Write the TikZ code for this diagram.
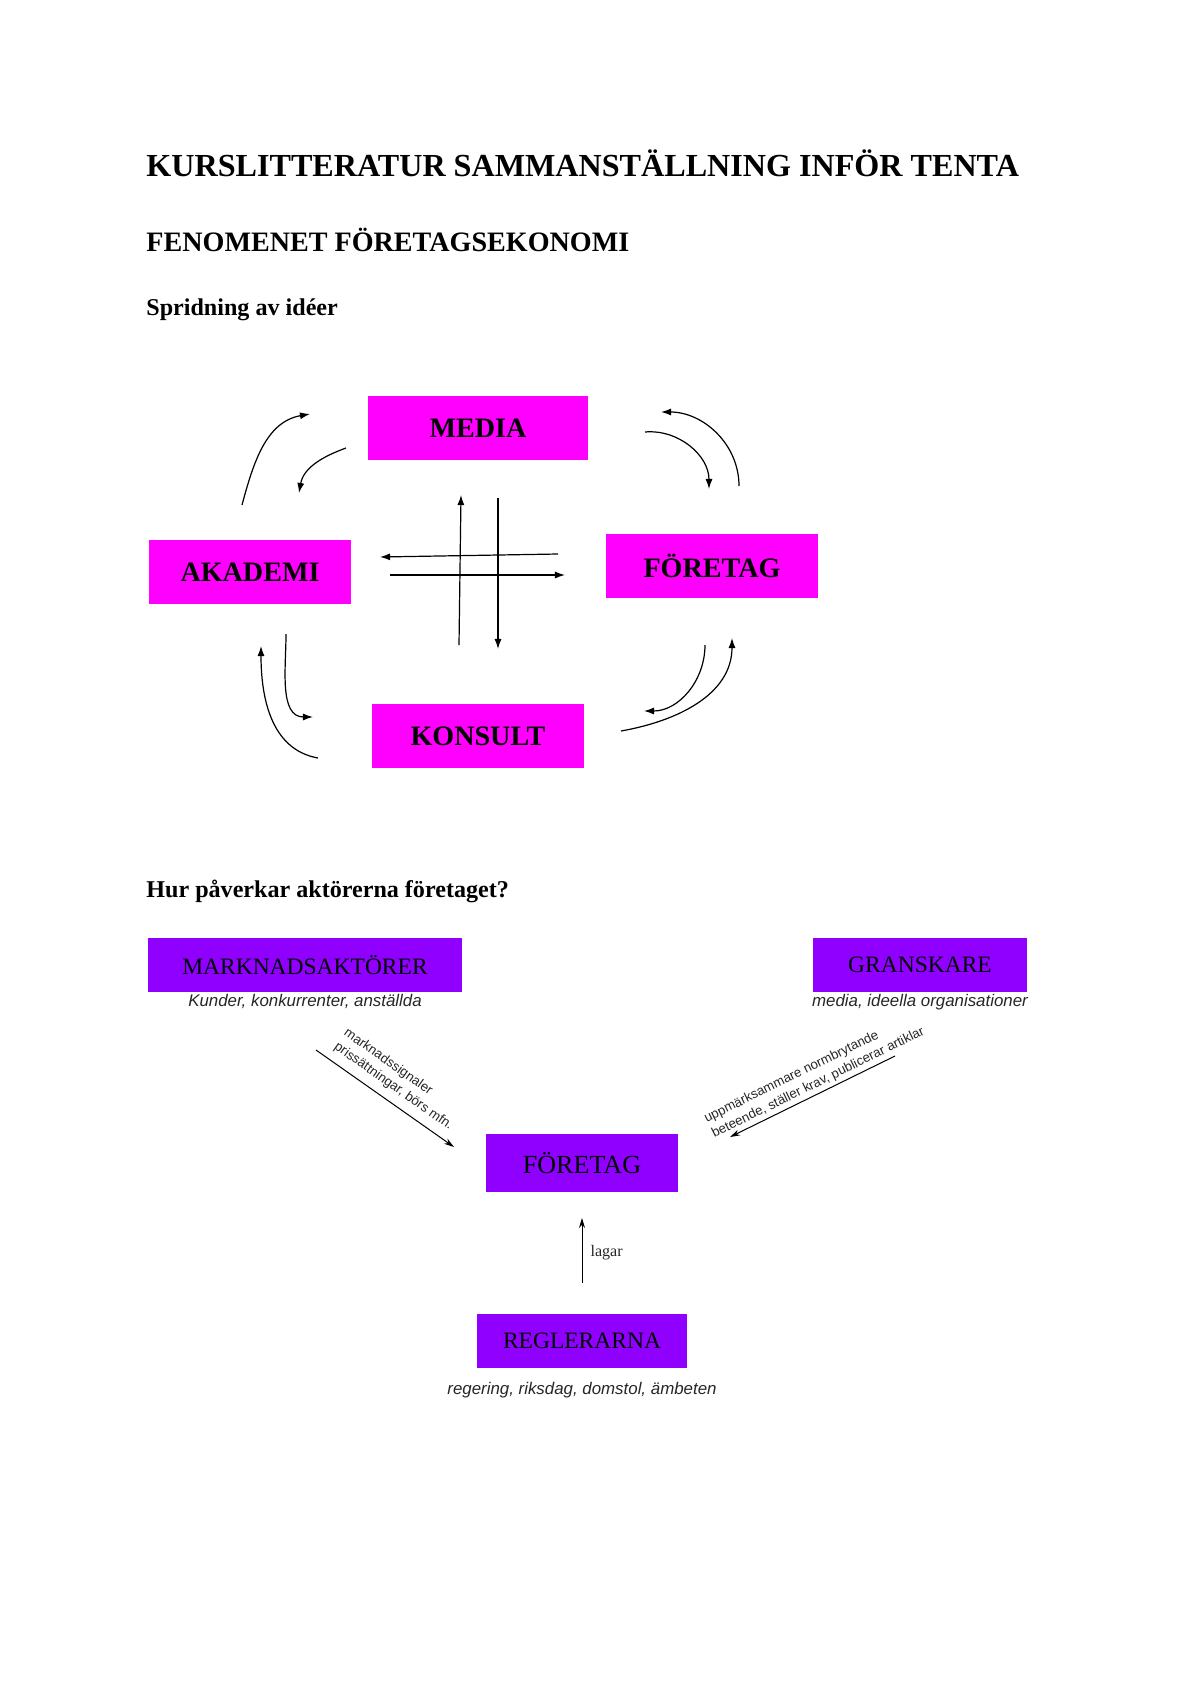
\documentclass[tikz,border=0pt]{standalone}
\usepackage{fontspec}
\setmainfont{Liberation Serif}
\setsansfont{Liberation Sans}
\usepackage{tikz}
\usetikzlibrary{positioning}
\usetikzlibrary{arrows.meta}
\definecolor{mymagenta}{RGB}{255,0,255}
\definecolor{myviolet}{RGB}{143,0,255}

\begin{document}
\begin{tikzpicture}[x=0.0175cm,y=0.0175cm]
	\useasboundingbox (0,0) rectangle (1200,-1694);

	\begin{scope}[every node/.style={anchor=base west,inner sep=0pt}]
	    \node (title) at (146,-176) [font=\fontsize{16}{19}\selectfont\bfseries] {KURSLITTERATUR SAMMANSTÄLLNING INFÖR TENTA};
	    \node (fenomen) at (146,-251) [font=\fontsize{14}{17}\selectfont\bfseries] {FENOMENET FÖRETAGSEKONOMI};
	    \node (spridning) at (146,-315) [font=\fontsize{12}{14}\selectfont\bfseries] {Spridning av idéer};
	    \node (hur) at (146,-897) [font=\fontsize{12}{14}\selectfont\bfseries] {Hur påverkar aktörerna företaget?};
	\end{scope}

	\begin{scope}[every node/.style={fill=mymagenta,minimum height=1.11cm,font=\fontsize{14}{16}\selectfont\bfseries}]
	    \node (media) at (478,-428) [minimum width=3.85cm] {MEDIA};
	    \node (akademi) at (250,-572) [minimum width=3.55cm] {AKADEMI};
	    \node (foretag) at (712,-566) [minimum width=3.71cm] {FÖRETAG};
	    \node (konsult) at (478,-736) [minimum width=3.71cm] {KONSULT};
	\end{scope}

	\coordinate (am1) at (242,-505);
	\coordinate (am2) at (310,-414);
	\coordinate (ma1) at (346,-448);
	\coordinate (ma2) at (299,-493);
	\coordinate (mf1) at (645,-432);
	\coordinate (mf2) at (709,-489);
	\coordinate (fm1) at (739,-486);
	\coordinate (fm2) at (661,-412);
	\coordinate (fk1) at (705,-645);
	\coordinate (fk2) at (644,-711);
	\coordinate (kf1) at (621,-731);
	\coordinate (kf2) at (732,-638);
	\coordinate (ak1) at (286,-634);
	\coordinate (ak2) at (313,-717);
	\coordinate (ka1) at (318,-758);
	\coordinate (ka2) at (261,-646);
	\coordinate (fa1) at (558,-554);
	\coordinate (fa2) at (380,-557);
	\coordinate (af1) at (390,-575);
	\coordinate (af2) at (565,-575);
	\coordinate (km1) at (459,-645);
	\coordinate (km2) at (461,-495);
	\coordinate (mk1) at (498,-498);
	\coordinate (mk2) at (498,-649);

	\begin{scope}[>={Latex[length=5pt,width=3.5pt]},
	              every edge/.style={draw=black,line width=0.6pt}]
    	\path [->] (am1) edge[out=75,in=190] (am2);
    	\path [->] (ma1) edge[out=200,in=80] (ma2);
    	\path [->] (mf1) edge[out=5,in=90] (mf2);
    	\path [->] (fm1) edge[out=90,in=0] (fm2);
    	\path [->] (fk1) edge[out=-90,in=0] (fk2);
    	\path [->] (kf1) edge[out=10,in=-90] (kf2);
    	\path [->] (ak1) edge[out=-90,in=180] (ak2);
    	\path [->] (ka1) edge[out=170,in=-90] (ka2);
    	\path [->] (fa1) edge (fa2);
    	\path [->] (af1) edge (af2);
    	\path [->] (km1) edge (km2);
    	\path [->] (mk1) edge (mk2);
	\end{scope}

	\begin{scope}[every node/.style={fill=myviolet,minimum height=0.93cm,font=\fontsize{11.7}{14}\selectfont}]
	    \node (markn) at (305,-965) [minimum width=5.5cm] {MARKNADSAKTÖRER};
	    \node (gransk) at (920,-965) [minimum width=3.76cm] {GRANSKARE};
	    \node (foretagb) at (582,-1163) [minimum width=3.36cm,minimum height=1cm,font=\fontsize{13}{15}\selectfont] {FÖRETAG};
	    \node (regler) at (582,-1341) [minimum width=3.66cm] {REGLERARNA};
	\end{scope}

	\begin{scope}[every node/.style={font=\sffamily\itshape\fontsize{8.4}{10}\selectfont,text=black!85,inner sep=1pt}]
	    \node (marknsub) [below=0pt of markn] {Kunder, konkurrenter, anställda};
	    \node (gransksub) [below=0pt of gransk] {media, ideella organisationer};
	    \node (reglersub) [below=6pt of regler] {regering, riksdag, domstol, ämbeten};
	\end{scope}

	\coordinate (sig1) at (316,-1050);
	\coordinate (sig2) at (454,-1147);
	\coordinate (gr1) at (895,-1056);
	\coordinate (gr2) at (730,-1137);

	\begin{scope}[>={Stealth[length=5pt,width=3pt]},
	              every edge/.style={draw=black,line width=0.5pt},
	              every node/.style={font=\sffamily\fontsize{6.6}{8.4}\selectfont,text=black!85,inner sep=1pt,align=left}]
    	\path [->] (sig1) edge node[sloped,above=3pt] {marknadssignaler\\prissättningar, börs mfn.} (sig2);
    	\path [->] (gr1) edge node[sloped,above=0.5pt,pos=0.44] {uppmärksammare normbrytande\\beteende, ställer krav, publicerar artiklar} (gr2);
    	\path [->] (regler) edge[shorten <=0.54cm,shorten >=0.455cm] node[right=3pt,font=\fontsize{8}{9}\selectfont] {lagar} (foretagb);
	\end{scope}
\end{tikzpicture}
\end{document}
